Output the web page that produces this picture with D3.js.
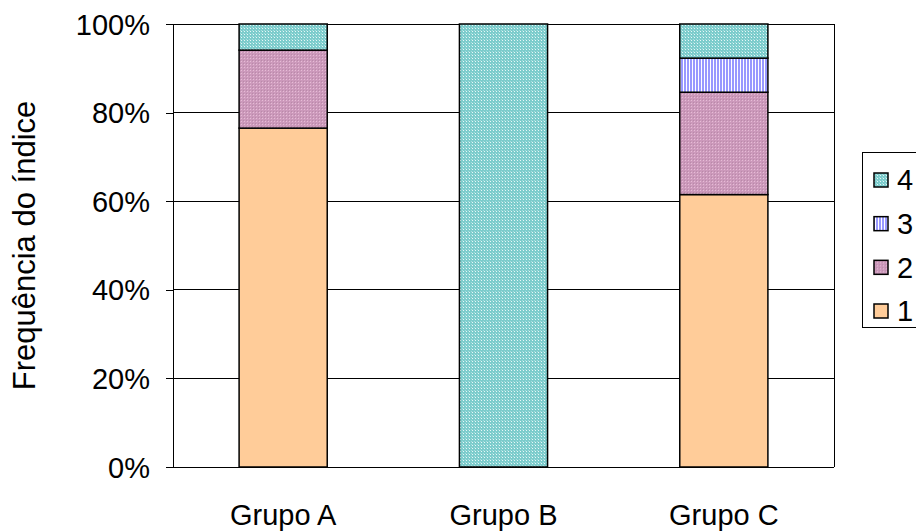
<!DOCTYPE html>
<html><head><meta charset="utf-8">
<script src="https://cdn.jsdelivr.net/npm/d3@7"></script>
<style>body{margin:0;background:#fff;} svg{display:block;font-family:"Liberation Sans",Arial,sans-serif;}</style>
</head><body>
<svg id="c" width="916" height="531"></svg>
<script>
const categories = ["Grupo A", "Grupo B", "Grupo C"];
const seriesNames = ["1", "2", "3", "4"];
const s1 = [76.5, 0, 61.5];
const s2 = [17.6, 0, 23.1];
const s3 = [0, 0, 7.7];
const s4 = [5.9, 100, 7.7];
const yTicks = [0, 20, 40, 60, 80, 100];
const yTitle = "Frequência do índice";

const svg = d3.select("#c");
const m = {l:173, r:834, t:24, b:467};
const FS = 29;
const x = d3.scaleBand().domain(categories).range([m.l, m.r]).paddingInner(0.6).paddingOuter(0.3);
const y = d3.scaleLinear().domain([0,100]).range([m.b, m.t]);

const defs = svg.append("defs");
const p4 = defs.append("pattern").attr("id","p4").attr("width",3).attr("height",3).attr("patternUnits","userSpaceOnUse");
p4.append("rect").attr("width",3).attr("height",3).attr("fill","#7ccccc");
p4.append("rect").attr("width",1).attr("height",1).attr("x",1).attr("y",1).attr("fill","#e6f7f7");
p4.append("rect").attr("width",1).attr("height",1).attr("x",0).attr("y",0).attr("fill","#a8dddd");
const p3 = defs.append("pattern").attr("id","p3").attr("width",3).attr("height",3).attr("patternUnits","userSpaceOnUse");
p3.append("rect").attr("width",3).attr("height",3).attr("fill","#ffffff");
p3.append("rect").attr("width",2).attr("height",3).attr("fill","#9999ff");
const p2 = defs.append("pattern").attr("id","p2").attr("width",3).attr("height",3).attr("patternUnits","userSpaceOnUse");
p2.append("rect").attr("width",3).attr("height",3).attr("fill","#cc99bb");
p2.append("rect").attr("width",1).attr("height",1).attr("x",1).attr("y",1).attr("fill","#e6bcd6");
p2.append("rect").attr("width",1).attr("height",1).attr("x",0).attr("y",0).attr("fill","#b98aa9");

const fills = {"1":"#ffcc99","2":"url(#p2)","3":"url(#p3)","4":"url(#p4)"};

svg.append("g").selectAll("line").data(yTicks.filter(d=>d>0)).join("line")
  .attr("x1",m.l).attr("x2",m.r).attr("y1",d=>y(d)).attr("y2",d=>y(d))
  .attr("stroke","#000").attr("stroke-width",1).attr("shape-rendering","crispEdges");
svg.append("line").attr("x1",m.r).attr("x2",m.r).attr("y1",m.t).attr("y2",m.b)
  .attr("stroke","#000").attr("shape-rendering","crispEdges");

const rows = categories.map((c,i)=>({cat:c,"1":s1[i],"2":s2[i],"3":s3[i],"4":s4[i]}));
const stack = d3.stack().keys(seriesNames)(rows);
svg.append("g").selectAll("g").data(stack).join("g")
  .attr("fill",d=>fills[d.key])
  .selectAll("rect").data(d=>d.filter(v=>v[1]-v[0]>0)).join("rect")
  .attr("x",d=>x(d.data.cat)).attr("width",x.bandwidth())
  .attr("y",d=>y(d[1])).attr("height",d=>y(d[0])-y(d[1]))
  .attr("stroke","#000").attr("stroke-width",1.5);

const ya = svg.append("g").attr("transform",`translate(${m.l},0)`)
  .call(d3.axisLeft(y).tickValues(yTicks).tickFormat(d=>d+"%").tickSize(7).tickPadding(16));
ya.attr("font-size",FS).attr("font-family",null);
ya.selectAll("text").attr("fill","#000").attr("dy","0.35em");
ya.selectAll("line,path").attr("stroke","#000").attr("shape-rendering","crispEdges");
ya.select("path").attr("d",`M0,${m.t}V${m.b}`);

const xa = svg.append("g").attr("transform",`translate(0,${m.b})`)
  .call(d3.axisBottom(x).tickSize(0).tickPadding(37));
xa.attr("font-size",FS).attr("font-family",null);
xa.selectAll("text").attr("fill","#000");
xa.select("path").attr("d",`M${m.l},0H${m.r}`).attr("stroke","#000").attr("shape-rendering","crispEdges");

svg.append("text").attr("transform",`translate(35,${(m.t+m.b)/2}) rotate(-90)`)
  .attr("text-anchor","middle").attr("font-size",31).text(yTitle);

const lg = svg.append("g");
lg.append("rect").attr("x",862.5).attr("y",152.5).attr("width",80).attr("height",175)
  .attr("fill","#fff").attr("stroke","#000");
const legendOrder = seriesNames.slice().reverse();
const ly = d3.scalePoint().domain(legendOrder).range([180, 311]);
const li = lg.selectAll("g.it").data(legendOrder).join("g").attr("class","it")
  .attr("transform",d=>`translate(0,${ly(d)})`);
li.append("rect").attr("x",874).attr("y",-7).attr("width",14).attr("height",14)
  .attr("fill",d=>fills[d]).attr("stroke","#000").attr("stroke-width",1.5);
li.append("text").attr("x",897).attr("y",0).attr("dy","0.36em").attr("font-size",FS).text(d=>d);
</script>
</body></html>
